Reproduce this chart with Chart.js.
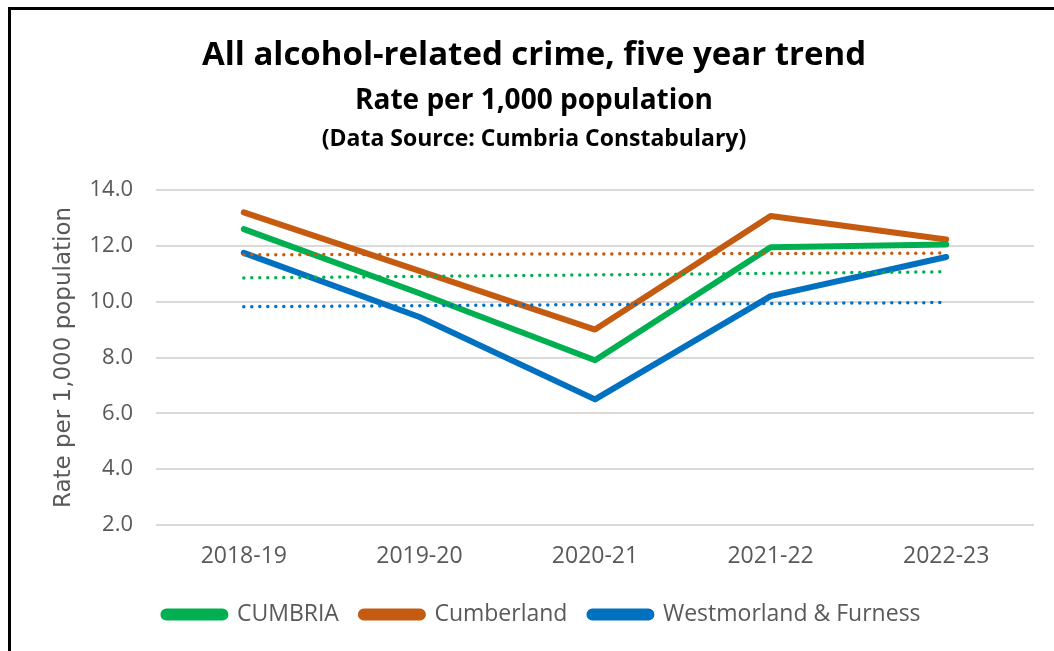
<!DOCTYPE html>
<html>
<head>
<meta charset="utf-8">
<script src="https://cdn.jsdelivr.net/npm/chart.js@4.4.1/dist/chart.umd.min.js"></script>
<style>
  html, body { margin: 0; padding: 0; background: #fff; }
  canvas { display: block; }
</style>
</head>
<body>
<canvas id="chart" width="1054" height="651"></canvas>
<script>
// years on the x axis
const years = ['2018-19', '2019-20', '2020-21', '2021-22', '2022-23'];

// rate per 1,000 population
const cumbria = [12.6, 10.3, 7.9, 11.95, 12.05];
const cumberland = [13.2, 11.1, 9.0, 13.07, 12.23];
const westmorland = [11.75, 9.45, 6.5, 10.2, 11.6];

// dotted trend lines, only the two end values
const cumbriaTrend = [10.85, null, null, null, 11.07];
const cumberlandTrend = [11.68, null, null, null, 11.74];
const westmorlandTrend = [9.82, null, null, null, 9.97];

const yTicks = [2, 4, 6, 8, 10, 12, 14];

const titleLines = [
  { text: 'All alcohol-related crime, five year trend', size: 33, y: 56 },
  { text: 'Rate per 1,000 population', size: 28, y: 101 },
  { text: '(Data Source: Cumbria Constabulary)', size: 23, y: 139 }
];

const GREEN = '#00b050';
const ORANGE = '#c55a11';
const BLUE = '#0070c0';
const FONT = "'Open Sans', Lato, sans-serif";

// white background, the frame and the three title lines
const decorations = {
  id: 'decorations',
  beforeDraw(chart) {
    const ctx = chart.ctx;
    ctx.save();
    ctx.fillStyle = '#fff';
    ctx.fillRect(0, 0, chart.width, chart.height);
    ctx.restore();
  },
  afterDraw(chart) {
    const ctx = chart.ctx;
    ctx.save();
    ctx.strokeStyle = '#000';
    ctx.lineWidth = 3;
    ctx.beginPath();
    ctx.moveTo(9.5, chart.height);
    ctx.lineTo(9.5, 8.5);
    ctx.lineTo(chart.width, 8.5);
    ctx.stroke();

    ctx.fillStyle = '#000';
    ctx.textAlign = 'center';
    ctx.textBaseline = 'middle';
    titleLines.forEach(line => {
      ctx.font = 'bold ' + line.size + 'px ' + FONT;
      ctx.fillText(line.text, 534, line.y);
    });
    ctx.restore();
  }
};

const solid = (label, data, color, order) => ({
  label: label,
  data: data,
  borderColor: color,
  backgroundColor: color,
  borderWidth: 6,
  borderCapStyle: 'round',
  borderJoinStyle: 'round',
  pointRadius: 0,
  tension: 0,
  order: order
});

const trend = (label, data, color) => ({
  label: label,
  data: data,
  borderColor: color,
  borderWidth: 3.5,
  borderDash: [0, 8],
  borderCapStyle: 'round',
  pointRadius: 0,
  spanGaps: true,
  order: 0,
  isTrend: true
});

new Chart(document.getElementById('chart'), {
  type: 'line',
  data: {
    labels: years,
    datasets: [
      solid('CUMBRIA', cumbria, GREEN, 1),
      solid('Cumberland', cumberland, ORANGE, 2),
      solid('Westmorland & Furness', westmorland, BLUE, 3),
      trend('CUMBRIA trend', cumbriaTrend, GREEN),
      trend('Cumberland trend', cumberlandTrend, ORANGE),
      trend('Westmorland & Furness trend', westmorlandTrend, BLUE)
    ]
  },
  options: {
    responsive: false,
    animation: false,
    layout: {
      padding: { left: 50, right: 20, top: 190, bottom: 15 }
    },
    plugins: {
      title: { display: false },
      tooltip: { enabled: false },
      legend: {
        position: 'bottom',
        labels: {
          filter: (item, data) => !data.datasets[item.datasetIndex].isTrend,
          boxWidth: 62,
          boxHeight: 6,
          useBorderRadius: true,
          borderRadius: 3,
          padding: 22,
          color: '#595959',
          font: { family: FONT, size: 23 }
        }
      }
    },
    scales: {
      x: {
        offset: true,
        grid: { display: false },
        border: { display: false },
        ticks: {
          color: '#595959',
          padding: 10,
          font: { family: FONT, size: 23 }
        },
        afterFit: scale => { scale.height = 56; }
      },
      y: {
        min: 2,
        max: 14,
        afterBuildTicks: scale => {
          scale.ticks = yTicks.map(v => ({ value: v }));
        },
        grid: { color: '#d9d9d9', lineWidth: 2, drawTicks: false },
        border: { display: false },
        ticks: {
          color: '#595959',
          padding: 23,
          font: { family: FONT, size: 22 },
          callback: v => v.toFixed(1)
        },
        title: {
          display: true,
          text: 'Rate per 1,000 population',
          color: '#595959',
          padding: 0,
          font: { family: "'DejaVu Sans', sans-serif", size: 23 }
        },
        afterFit: scale => { scale.width = 106; }
      }
    }
  },
  plugins: [decorations]
});
</script>
</body>
</html>
